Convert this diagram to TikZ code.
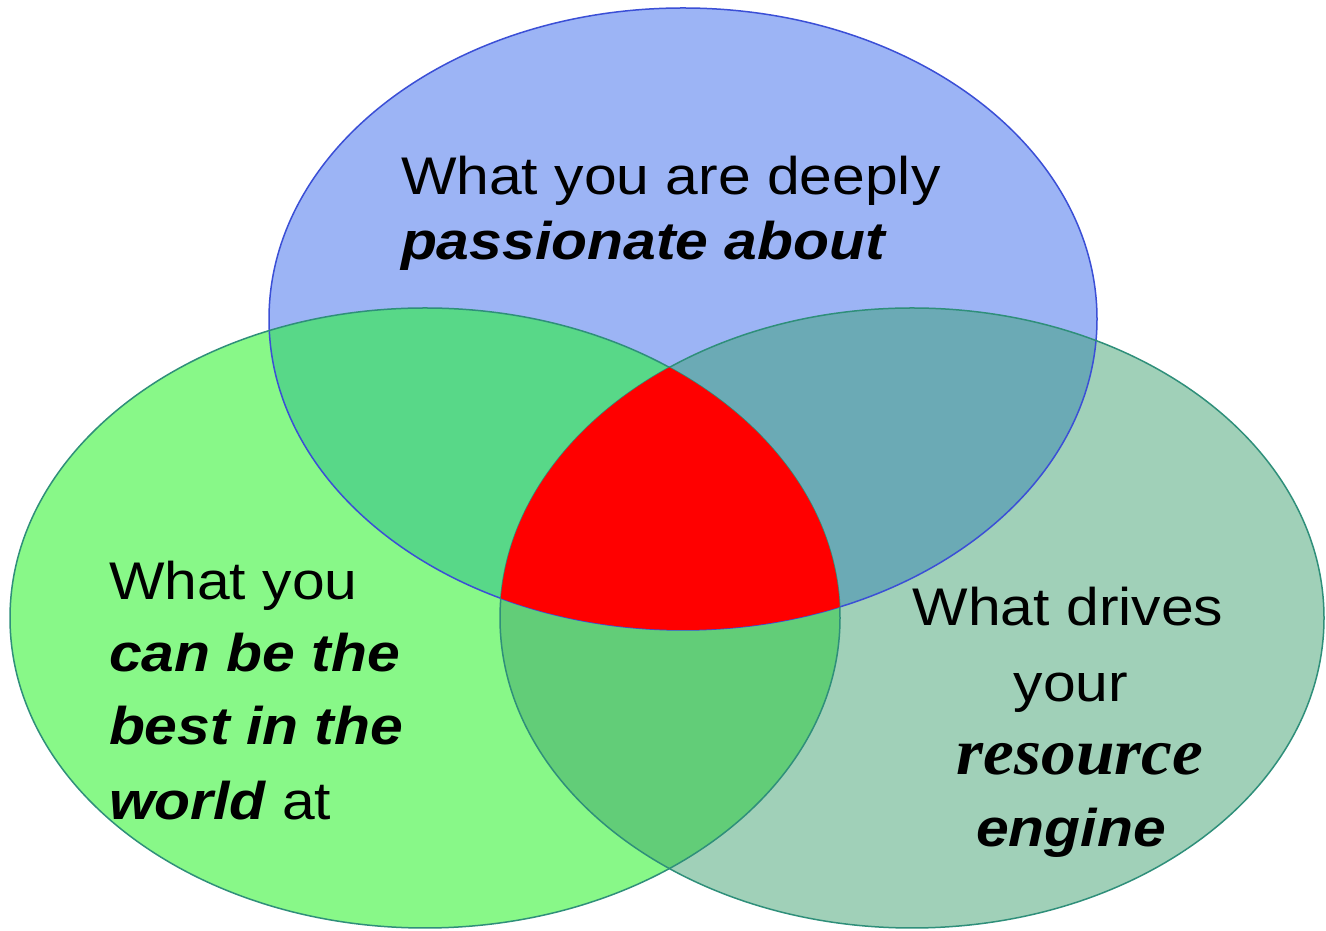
\documentclass[tikz,border=0pt]{standalone}
\usepackage{fontspec}
\setmainfont{Liberation Sans}
\newfontfamily\lsans[FakeStretch=1.11]{Liberation Sans}
\newfontfamily\lserif[FakeStretch=1.05]{Liberation Serif}
\definecolor{cTop}{HTML}{9CB4F5}
\definecolor{cLeft}{HTML}{88F888}
\definecolor{cRight}{HTML}{A0D0B8}
\definecolor{cTL}{HTML}{58D888}
\definecolor{cTR}{HTML}{6BAAB5}
\definecolor{cLR}{HTML}{62CD78}
\definecolor{cRed}{HTML}{FF0000}
\definecolor{oTop}{HTML}{3B4FD6}
\definecolor{oGreen}{HTML}{2F8F7A}
\tikzset{
  lbl/.style={inner sep=0pt, outer sep=0pt, font=\lsans\fontsize{53}{60}\selectfont, text=black},
  lblr/.style={inner sep=0pt, outer sep=0pt, font=\lserif\fontsize{66}{70}\selectfont\bfseries\itshape, text=black},
  outl/.style={line width=1.5pt}
}
\def\topE{(683,612) ellipse [x radius=414pt, y radius=311pt]}
\def\leftE{(425,313) ellipse [x radius=415pt, y radius=310pt]}
\def\rightE{(912,313) ellipse [x radius=412pt, y radius=310pt]}
\begin{document}
\begin{tikzpicture}[x=1pt,y=1pt]
\useasboundingbox[fill=white] (0,0) rectangle (1326,931);
% base fills
\fill[cTop] \topE;
\fill[cLeft] \leftE;
\fill[cRight] \rightE;
% pairwise overlaps
\begin{scope}
  \clip \topE;
  \fill[cTL] \leftE;
  \fill[cTR] \rightE;
\end{scope}
\begin{scope}
  \clip \leftE;
  \fill[cLR] \rightE;
\end{scope}
% outlines
\draw[outl, oTop] \topE;
\draw[outl, oGreen] \leftE;
\draw[outl, oGreen] \rightE;
% triple overlap
\begin{scope}
  \clip \topE;
  \clip \leftE;
  \fill[cRed] \rightE;
\end{scope}
% top label
\node[lbl, anchor=base west] (t1) at (401,736) {What you are deeply};
\node[lbl, anchor=base west] (t2) at (401,671) {\bfseries\itshape passionate about};
% left label
\node[lbl, anchor=base west] (l1) at (109,331) {What you};
\node[lbl, anchor=base west] (l2) at (109,259) {\bfseries\itshape can be the};
\node[lbl, anchor=base west] (l3) at (109,186) {\bfseries\itshape best in the};
\node[lbl, anchor=base west] (l4) at (109,111) {{\bfseries\itshape world} at};
% right label
\node[lbl, anchor=base] (r1) at (1068,305) {What drives};
\node[lbl, anchor=base] (r2) at (1071,229) {your};
\node[lblr, anchor=base] (r3) at (1080,156) {resource};
\node[lbl, anchor=base] (r4) at (1071,84) {\bfseries\itshape engine};
\end{tikzpicture}
\end{document}
